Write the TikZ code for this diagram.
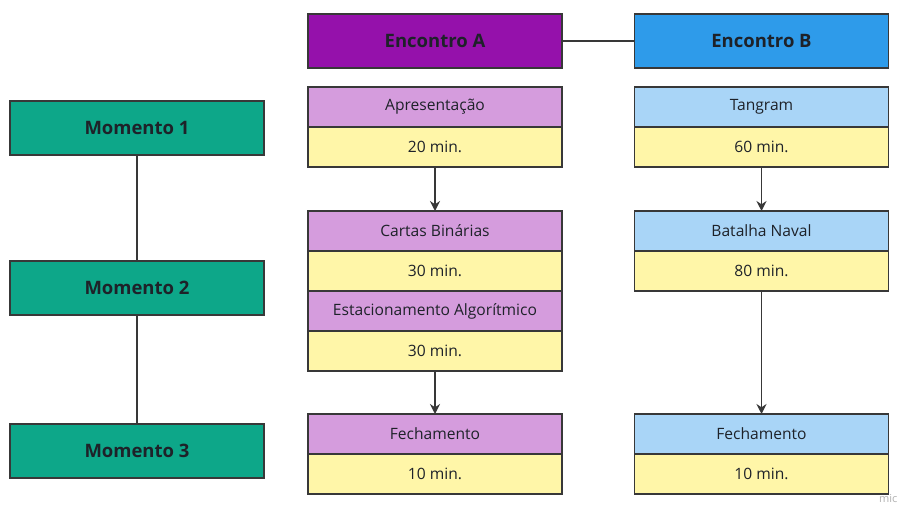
\documentclass[tikz,border=0pt]{standalone}
\usepackage{fontspec}
\setmainfont{Open Sans}
\usepackage{tikz}
\usetikzlibrary{arrows.meta,positioning}
\definecolor{mtink}     {HTML}{1E2229}
\definecolor{mtline}    {HTML}{383838}
\definecolor{mtgreen}   {HTML}{0DA789}
\definecolor{mtpurple}  {HTML}{9511AB}
\definecolor{mtblue}    {HTML}{2E9BEA}
\definecolor{mtlilac}   {HTML}{D59CDD}
\definecolor{mtsky}     {HTML}{A9D5F7}
\definecolor{mtcream}   {HTML}{FFF6A8}
\tikzset{
  mtbox/.style={draw=mtline, line width=1.1pt, minimum width=254pt,
                inner sep=0pt, outer sep=0pt, text=mtink},
  mthead/.style={mtbox, minimum height=54pt, font=\bfseries\fontsize{18.5}{20}\selectfont},
  mtmoment/.style={mthead, fill=mtgreen},
  mtcell/.style={mtbox, minimum height=40pt, font=\fontsize{15.6}{17}\selectfont},
  mttitleA/.style={mtcell, fill=mtlilac},
  mttitleB/.style={mtcell, fill=mtsky},
  mttime/.style={mtcell, fill=mtcream},
  mtlink/.style={draw=mtline, line width=1.1pt},
  mtarrow/.style={-{Stealth[length=10pt,width=10pt]}, draw=mtline, line width=1.3pt},
}
\begin{document}
\begin{tikzpicture}[x=1pt,y=-1pt]
  \useasboundingbox[fill=white] (0,0) rectangle (901,504);
  % encontros
  \node[mthead, fill=mtpurple] (encA) at (435,41) {Encontro A};
  \node[mthead, fill=mtblue]   (encB) at (761.5,41) {Encontro B};
  \draw[mtlink] (encA) -- (encB);
  % momentos
  \node[mtmoment] (mom1) at (137,128) {Momento 1};
  \node[mtmoment] (mom2) at (137,288) {Momento 2};
  \node[mtmoment] (mom3) at (137,451) {Momento 3};
  \draw[mtlink] (mom1) -- (mom2);
  \draw[mtlink] (mom2) -- (mom3);
  % coluna A
  \node[mttitleA] (apres) at (435,107) {Apresentação};
  \node[mttime, below=0pt of apres] (apresT) {20 min.};
  \node[mttitleA] (cartas) at (435,231) {Cartas Binárias};
  \node[mttime, below=0pt of cartas] (cartasT) {30 min.};
  \node[mttitleA, below=0pt of cartasT] (estac) {Estacionamento Algorítmico};
  \node[mttime, below=0pt of estac] (estacT) {30 min.};
  \node[mttitleA] (fechA) at (435,434) {Fechamento};
  \node[mttime, below=0pt of fechA] (fechAT) {10 min.};
  \draw[mtarrow] (apresT) -- (cartas);
  \draw[mtarrow] (estacT) -- (fechA);
  % coluna B
  \node[mttitleB] (tang) at (761.5,107) {Tangram};
  \node[mttime, below=0pt of tang] (tangT) {60 min.};
  \node[mttitleB] (batalha) at (761.5,231) {Batalha Naval};
  \node[mttime, below=0pt of batalha] (batalhaT) {80 min.};
  \node[mttitleB] (fechB) at (761.5,434) {Fechamento};
  \node[mttime, below=0pt of fechB] (fechBT) {10 min.};
  \draw[mtarrow] (tangT) -- (batalha);
  \draw[mtarrow] (batalhaT) -- (fechB);
  % marca
  \node[anchor=base west, text=black!30, font=\fontsize{11}{12}\selectfont, inner sep=0pt]
    (marca) at (879,502.5) {mic};
\end{tikzpicture}
\end{document}
